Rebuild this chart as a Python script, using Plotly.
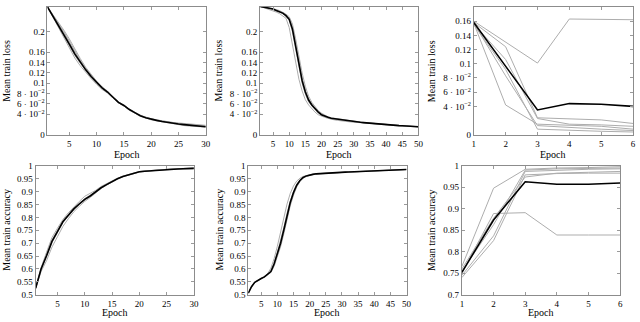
import plotly.graph_objects as go
from plotly.subplots import make_subplots

# ---- data ----
ep30 = list(range(1, 31))
ep50 = list(range(1, 51))
ep6 = list(range(1, 7))

# top-left: loss, 30 epochs
loss30_mean = [0.248, 0.230, 0.214, 0.195, 0.176, 0.157, 0.141, 0.126, 0.113, 0.101,
               0.091, 0.083, 0.072, 0.063, 0.057, 0.049, 0.043, 0.037, 0.033, 0.030,
               0.028, 0.026, 0.024, 0.0225, 0.021, 0.0198, 0.0185, 0.0175, 0.0165, 0.0156]
loss30_runs = [
    [0.248, 0.233, 0.220, 0.203, 0.186, 0.166, 0.148, 0.131, 0.117, 0.104,
     0.093, 0.084, 0.073, 0.064, 0.058, 0.050, 0.044, 0.038, 0.034, 0.031,
     0.029, 0.027, 0.025, 0.0235, 0.022, 0.021, 0.020, 0.019, 0.018, 0.0175],
    [0.248, 0.228, 0.208, 0.187, 0.167, 0.149, 0.134, 0.121, 0.109, 0.098,
     0.088, 0.081, 0.071, 0.062, 0.056, 0.048, 0.042, 0.037, 0.033, 0.029,
     0.027, 0.025, 0.023, 0.021, 0.0195, 0.018, 0.017, 0.016, 0.0155, 0.015],
    [0.248, 0.231, 0.216, 0.198, 0.179, 0.160, 0.143, 0.128, 0.115, 0.102,
     0.092, 0.083, 0.072, 0.063, 0.056, 0.049, 0.043, 0.037, 0.033, 0.030,
     0.028, 0.026, 0.024, 0.022, 0.021, 0.0195, 0.0185, 0.0175, 0.017, 0.016],
    [0.248, 0.229, 0.211, 0.192, 0.172, 0.154, 0.139, 0.124, 0.111, 0.099,
     0.090, 0.082, 0.071, 0.062, 0.056, 0.048, 0.042, 0.036, 0.033, 0.030,
     0.028, 0.026, 0.0245, 0.023, 0.0215, 0.020, 0.019, 0.018, 0.017, 0.016],
    [0.248, 0.232, 0.218, 0.200, 0.182, 0.162, 0.145, 0.129, 0.116, 0.103,
     0.093, 0.085, 0.073, 0.064, 0.057, 0.050, 0.043, 0.038, 0.034, 0.031,
     0.029, 0.027, 0.0255, 0.024, 0.023, 0.022, 0.021, 0.020, 0.019, 0.0185],
]

# top-middle: loss, 50 epochs
loss50_mean = [0.249, 0.248, 0.247, 0.245, 0.244, 0.241, 0.239, 0.236, 0.231, 0.224,
               0.205, 0.171, 0.136, 0.105, 0.083, 0.0675, 0.058, 0.050, 0.044, 0.039,
               0.036, 0.034, 0.032, 0.031, 0.030, 0.029, 0.028, 0.027, 0.0263, 0.0256,
               0.025, 0.0243, 0.0237, 0.0231, 0.0225, 0.0218, 0.0211, 0.0204, 0.0197, 0.019,
               0.0187, 0.0184, 0.0181, 0.0178, 0.0175, 0.0171, 0.0167, 0.0163, 0.0159, 0.0156]
loss50_runs = [
    [0.249, 0.247, 0.245, 0.243, 0.241, 0.238, 0.235, 0.231, 0.226, 0.208,
     0.176, 0.140, 0.108, 0.085, 0.068, 0.058, 0.050, 0.044, 0.039, 0.036,
     0.034, 0.032, 0.030, 0.029, 0.028, 0.027, 0.026, 0.0255, 0.025, 0.0245,
     0.024, 0.0235, 0.023, 0.0225, 0.022, 0.0213, 0.0206, 0.020, 0.0194, 0.0188,
     0.0184, 0.018, 0.0177, 0.0174, 0.0171, 0.0168, 0.0164, 0.016, 0.0156, 0.0152],
    [0.249, 0.248, 0.247, 0.246, 0.245, 0.243, 0.241, 0.238, 0.234, 0.229,
     0.215, 0.186, 0.152, 0.120, 0.094, 0.075, 0.063, 0.054, 0.047, 0.042,
     0.038, 0.035, 0.033, 0.032, 0.031, 0.030, 0.029, 0.028, 0.027, 0.0262,
     0.0255, 0.0248, 0.0241, 0.0234, 0.0228, 0.0221, 0.0214, 0.0207, 0.020, 0.0193,
     0.019, 0.0186, 0.0183, 0.018, 0.0177, 0.0173, 0.0169, 0.0165, 0.0161, 0.0158],
    [0.249, 0.248, 0.246, 0.245, 0.243, 0.240, 0.238, 0.235, 0.230, 0.222,
     0.200, 0.165, 0.130, 0.100, 0.079, 0.064, 0.056, 0.049, 0.043, 0.038,
     0.035, 0.033, 0.031, 0.030, 0.029, 0.028, 0.0275, 0.0268, 0.026, 0.0253,
     0.0247, 0.024, 0.0234, 0.0228, 0.0222, 0.0215, 0.0208, 0.0201, 0.0195, 0.0188,
     0.0185, 0.0182, 0.0179, 0.0176, 0.0173, 0.0169, 0.0165, 0.0161, 0.0157, 0.0154],
    [0.249, 0.248, 0.247, 0.245, 0.244, 0.242, 0.240, 0.237, 0.232, 0.226,
     0.210, 0.178, 0.142, 0.110, 0.087, 0.070, 0.060, 0.051, 0.045, 0.040,
     0.037, 0.034, 0.032, 0.031, 0.030, 0.029, 0.028, 0.027, 0.0265, 0.0258,
     0.0252, 0.0245, 0.0239, 0.0233, 0.0227, 0.022, 0.0213, 0.0206, 0.0199, 0.0192,
     0.0189, 0.0186, 0.0183, 0.018, 0.0177, 0.0173, 0.0169, 0.0165, 0.0161, 0.0158],
]

# top-right: loss, 6 epochs
loss6_mean = [0.158, 0.097, 0.035, 0.044, 0.043, 0.040]
loss6_runs = [
    [0.160, 0.130, 0.101, 0.163, 0.163, 0.162],
    [0.158, 0.124, 0.024, 0.022, 0.021, 0.016],
    [0.157, 0.042, 0.015, 0.013, 0.012, 0.008],
    [0.156, 0.106, 0.023, 0.015, 0.014, 0.012],
    [0.155, 0.092, 0.008, 0.006, 0.005, 0.004],
    [0.157, 0.083, 0.013, 0.010, 0.008, 0.006],
]

# bottom-left: accuracy, 30 epochs
acc30_mean = [0.525, 0.600, 0.651, 0.707, 0.745, 0.783, 0.808, 0.833, 0.852, 0.870,
              0.883, 0.900, 0.915, 0.927, 0.940, 0.950, 0.959, 0.965, 0.971, 0.977,
              0.979, 0.981, 0.983, 0.985, 0.986, 0.987, 0.988, 0.989, 0.989, 0.990]
acc30_runs = [
    [0.525, 0.605, 0.665, 0.722, 0.758, 0.792, 0.818, 0.842, 0.862, 0.882,
     0.893, 0.905, 0.920, 0.931, 0.942, 0.952, 0.960, 0.966, 0.972, 0.978,
     0.980, 0.982, 0.984, 0.986, 0.987, 0.988, 0.989, 0.990, 0.990, 0.991],
    [0.525, 0.590, 0.632, 0.685, 0.725, 0.765, 0.795, 0.822, 0.843, 0.862,
     0.877, 0.895, 0.912, 0.925, 0.938, 0.949, 0.958, 0.964, 0.970, 0.976,
     0.978, 0.981, 0.983, 0.985, 0.986, 0.987, 0.988, 0.989, 0.990, 0.991],
    [0.525, 0.598, 0.648, 0.702, 0.742, 0.780, 0.805, 0.830, 0.850, 0.868,
     0.882, 0.898, 0.914, 0.926, 0.939, 0.949, 0.958, 0.965, 0.971, 0.976,
     0.979, 0.981, 0.983, 0.984, 0.985, 0.986, 0.987, 0.988, 0.988, 0.989],
    [0.525, 0.603, 0.657, 0.712, 0.750, 0.787, 0.811, 0.836, 0.855, 0.873,
     0.886, 0.902, 0.917, 0.929, 0.941, 0.951, 0.960, 0.966, 0.972, 0.977,
     0.980, 0.982, 0.984, 0.986, 0.987, 0.988, 0.989, 0.990, 0.991, 0.992],
]

# bottom-middle: accuracy, 50 epochs
acc50_mean = [0.506, 0.531, 0.548, 0.557, 0.563, 0.569, 0.578, 0.590, 0.619, 0.657,
              0.700, 0.751, 0.808, 0.858, 0.896, 0.925, 0.943, 0.955, 0.961, 0.965,
              0.967, 0.969, 0.970, 0.9705, 0.971, 0.972, 0.973, 0.9735, 0.974, 0.975,
              0.9755, 0.976, 0.9765, 0.977, 0.978, 0.9785, 0.979, 0.9795, 0.980, 0.981,
              0.9815, 0.982, 0.9825, 0.983, 0.984, 0.9845, 0.985, 0.9853, 0.9857, 0.986]
acc50_runs = [
    [0.506, 0.532, 0.549, 0.558, 0.564, 0.571, 0.582, 0.603, 0.640, 0.688,
     0.742, 0.800, 0.852, 0.893, 0.922, 0.941, 0.952, 0.959, 0.963, 0.966,
     0.968, 0.969, 0.970, 0.9705, 0.971, 0.972, 0.973, 0.9735, 0.974, 0.975,
     0.9755, 0.976, 0.9765, 0.977, 0.978, 0.9785, 0.979, 0.9795, 0.980, 0.981,
     0.9815, 0.982, 0.9825, 0.983, 0.984, 0.9845, 0.985, 0.9853, 0.9857, 0.986],
    [0.506, 0.530, 0.547, 0.556, 0.562, 0.568, 0.576, 0.586, 0.610, 0.644,
     0.686, 0.736, 0.792, 0.845, 0.886, 0.918, 0.939, 0.952, 0.959, 0.964,
     0.966, 0.968, 0.969, 0.970, 0.971, 0.972, 0.973, 0.9735, 0.974, 0.975,
     0.9755, 0.976, 0.9765, 0.977, 0.978, 0.9785, 0.979, 0.9795, 0.980, 0.981,
     0.9815, 0.982, 0.9825, 0.983, 0.984, 0.9845, 0.985, 0.9853, 0.9857, 0.986],
    [0.506, 0.531, 0.548, 0.557, 0.563, 0.569, 0.578, 0.592, 0.624, 0.664,
     0.708, 0.760, 0.816, 0.864, 0.900, 0.928, 0.945, 0.956, 0.962, 0.965,
     0.967, 0.969, 0.970, 0.9705, 0.971, 0.972, 0.973, 0.9735, 0.974, 0.975,
     0.9755, 0.976, 0.9765, 0.977, 0.978, 0.9785, 0.979, 0.9795, 0.980, 0.981,
     0.9815, 0.982, 0.9825, 0.983, 0.984, 0.9845, 0.985, 0.9853, 0.9857, 0.986],
]

# bottom-right: accuracy, 6 epochs
acc6_mean = [0.752, 0.874, 0.963, 0.957, 0.957, 0.960]
acc6_runs = [
    [0.766, 0.948, 0.992, 0.995, 0.996, 0.998],
    [0.751, 0.889, 0.891, 0.839, 0.839, 0.839],
    [0.745, 0.837, 0.987, 0.990, 0.992, 0.993],
    [0.760, 0.878, 0.974, 0.983, 0.985, 0.987],
    [0.740, 0.826, 0.979, 0.982, 0.983, 0.983],
    [0.755, 0.863, 0.990, 0.993, 0.994, 0.995],
]

loss_ticks = [0, 0.04, 0.06, 0.08, 0.1, 0.12, 0.14, 0.16, 0.2]
loss_ticktext = ["0", "4 · 10<sup>−2</sup>", "6 · 10<sup>−2</sup>", "8 · 10<sup>−2</sup>",
                 "0.1", "0.12", "0.14", "0.16", "0.2"]
acc_ticks = [0.5, 0.55, 0.6, 0.65, 0.7, 0.75, 0.8, 0.85, 0.9, 0.95, 1.0]
acc_ticktext = ["0.5", "0.55", "0.6", "0.65", "0.7", "0.75", "0.8", "0.85", "0.9", "0.95", "1"]

# ---- figure ----
W, H = 640, 322
FONT = "Liberation Serif, DejaVu Serif, serif"
GRAY = "#adadad"

fig = make_subplots(rows=2, cols=3)

panels = [
    # (row, col, x, mean, runs, x px range, y px range, epoch label offset)
    (1, 1, ep30, loss30_mean, loss30_runs, (46, 206), (2, 134), 20),
    (1, 2, ep50, loss50_mean, loss50_runs, (261, 421), (2, 134), 20),
    (1, 3, ep6, loss6_mean, loss6_runs, (477, 638), (2, 134), 20),
    (2, 1, ep30, acc30_mean, acc30_runs, (34, 194), (166, 299), 18),
    (2, 2, ep50, acc50_mean, acc50_runs, (249, 409), (166, 299), 18),
    (2, 3, ep6, acc6_mean, acc6_runs, (465, 625), (166, 299), 18),
]

for i, (r, c, xs, mean, runs, xpx, ypx, off) in enumerate(panels):
    for run in runs:
        fig.add_trace(go.Scatter(x=xs, y=run, mode="lines",
                                 line={"color": GRAY, "width": 1}, showlegend=False),
                      row=r, col=c)
    fig.add_trace(go.Scatter(x=xs, y=mean, mode="lines",
                             line={"color": "#000000", "width": 1.6}, showlegend=False),
                  row=r, col=c)

    n = i + 1
    xa = "xaxis" if n == 1 else "xaxis%d" % n
    ya = "yaxis" if n == 1 else "yaxis%d" % n
    fig.layout[xa].domain = [xpx[0] / W, xpx[1] / W]
    fig.layout[ya].domain = [1 - ypx[1] / H, 1 - ypx[0] / H]

    # epoch label placed by hand, like the reference
    fig.add_annotation(x=(xpx[0] + xpx[1]) / 2 / W, y=1 - (ypx[1] + off) / H,
                       xref="paper", yref="paper", text="Epoch", showarrow=False,
                       font={"family": FONT, "size": 10, "color": "#000"},
                       xanchor="center", yanchor="middle")

ax_common = dict(showline=True, linecolor="#8c8c8c", linewidth=1, mirror="allticks",
                 ticks="inside", ticklen=3, tickcolor="#9a9a9a", showgrid=False,
                 zeroline=False, tickfont={"family": FONT, "size": 9, "color": "#000"})
fig.update_xaxes(**ax_common)
fig.update_yaxes(**ax_common)

fig.update_xaxes(range=[1, 30], tickvals=[5, 10, 15, 20, 25, 30], row=1, col=1)
fig.update_xaxes(range=[1, 50], tickvals=list(range(5, 51, 5)), row=1, col=2)
fig.update_xaxes(range=[1, 6], tickvals=ep6, row=1, col=3)
fig.update_xaxes(range=[1, 30], tickvals=[5, 10, 15, 20, 25, 30], row=2, col=1)
fig.update_xaxes(range=[1, 50], tickvals=list(range(5, 51, 5)), row=2, col=2)
fig.update_xaxes(range=[1, 6], tickvals=ep6, row=2, col=3)

fig.update_yaxes(range=[0, 0.248], tickvals=loss_ticks, ticktext=loss_ticktext, row=1, col=1)
fig.update_yaxes(range=[0, 0.248], tickvals=loss_ticks, ticktext=loss_ticktext, row=1, col=2)
fig.update_yaxes(range=[0, 0.18], tickvals=loss_ticks[:-1], ticktext=loss_ticktext[:-1], row=1, col=3)
fig.update_yaxes(range=[0.5, 1.0], tickvals=acc_ticks, ticktext=acc_ticktext, row=2, col=1)
fig.update_yaxes(range=[0.5, 1.0], tickvals=acc_ticks, ticktext=acc_ticktext, row=2, col=2)
fig.update_yaxes(range=[0.7, 1.0], tickvals=acc_ticks[4:], ticktext=acc_ticktext[4:], row=2, col=3)

ytitles = [(5, 68, "Mean train loss"), (219, 68, "Mean train loss"), (435, 68, "Mean train loss"),
           (5, 232, "Mean train accuracy"), (220, 232, "Mean train accuracy"),
           (435, 232, "Mean train accuracy")]
for px, py, t in ytitles:
    fig.add_annotation(x=px / W, y=1 - py / H, xref="paper", yref="paper", text=t,
                       showarrow=False, textangle=-90,
                       font={"family": FONT, "size": 10, "color": "#000"},
                       xanchor="center", yanchor="middle")

fig.update_layout(width=W, height=H, margin=dict(l=0, r=0, t=0, b=0),
                  plot_bgcolor="white", paper_bgcolor="white", showlegend=False)

# the page body has a default 8px margin; drop it so the figure sits at the corner
fig.write_html("out.html", config={"displayModeBar": False},
               post_script="document.body.style.margin='0';")
